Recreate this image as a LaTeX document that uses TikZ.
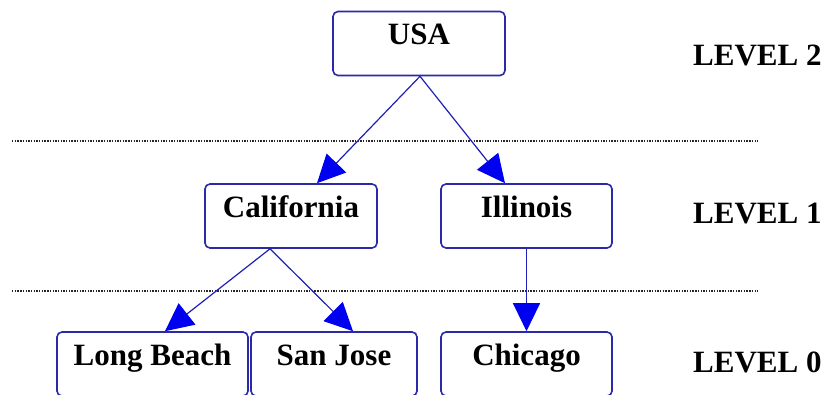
\documentclass[tikz,border=0pt]{standalone}
\usepackage{fontspec}
\setmainfont{Liberation Serif}
\usetikzlibrary{arrows.meta,calc}
\definecolor{boxblue}{HTML}{2A2AA8}
\definecolor{lineblue}{HTML}{2020B8}
\definecolor{headblue}{HTML}{0000F0}
\tikzset{
  place/.style={draw=boxblue, line width=1.6pt, rounded corners=5pt, inner sep=0pt,
    text height=33pt, text depth=31pt, font=\fontsize{31}{31}\selectfont\bfseries},
  arr/.style={draw=lineblue, line width=1.2pt,
    -{Triangle[length=28pt,width=27pt,fill=headblue,color=headblue]}},
  sep/.style={draw=black!85, line width=1.5pt, dash pattern=on 1.4pt off 1.3pt},
  lvl/.style={anchor=base west, inner sep=0pt, font=\fontsize{31}{31}\selectfont\bfseries}
}
\begin{document}
\begin{tikzpicture}[x=1pt,y=-1pt]
\useasboundingbox[fill=white] (0,0) rectangle (827,394);
% separators
\coordinate (s1a) at (12,141); \coordinate (s1b) at (758,141);
\coordinate (s2a) at (12,291); \coordinate (s2b) at (758,291);
\draw[sep] (s1a) -- (s1b);
\draw[sep] (s2a) -- (s2b);
% nodes
\node[place, minimum width=172pt] (usa) at (419,43.5) {USA};
\node[place, minimum width=172pt] (cal) at (291,216) {California};
\node[place, minimum width=171pt] (ill) at (526.5,216) {Illinois};
\node[place, minimum width=191pt] (lb) at (152.5,364) {Long Beach};
\node[place, minimum width=166pt] (sj) at (334,364) {San Jose};
\node[place, minimum width=171pt] (chi) at (526.5,364) {Chicago};
% levels
\node[lvl] (l2) at (693,65) {LEVEL 2};
\node[lvl] (l1) at (693,223) {LEVEL 1};
\node[lvl] (l0) at (693,372) {LEVEL 0};
% arrows
\draw[arr] ($(usa.south)+(1,0)$) -- ($(cal.north)+(26,0)$);
\draw[arr] ($(usa.south)+(1,0)$) -- ($(ill.north)+(-21.5,0)$);
\draw[arr] ($(cal.south)+(-21,0)$) -- ($(lb.north)+(12.5,0)$);
\draw[arr] ($(cal.south)+(-21,0)$) -- ($(sj.north)+(19,0)$);
\draw[arr] (ill.south) -- (chi.north);
\end{tikzpicture}
\end{document}
